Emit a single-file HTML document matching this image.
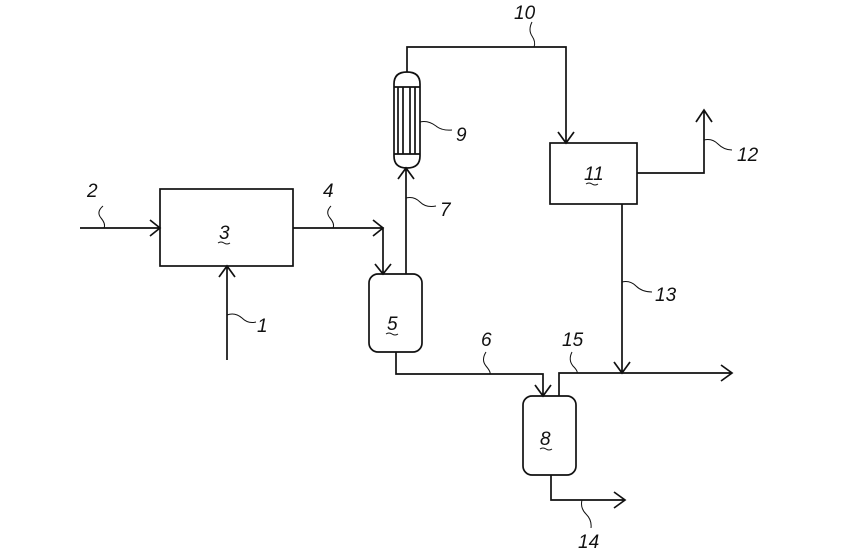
<!DOCTYPE html>
<html><head><style>body{margin:0;background:#fff}svg{display:block}text{font-family:"Liberation Sans",sans-serif;font-style:italic;font-size:19px;fill:#111}</style></head>
<body>
<svg width="857" height="553" viewBox="0 0 857 553" xmlns="http://www.w3.org/2000/svg">
<g fill="none" stroke="#111" stroke-width="1.7">
<rect x="160" y="189" width="133" height="77"/>
<path d="M80 228H160M150 220L160 228L150 236"/>
<path d="M227 360V266M219 277L227 266L235 277"/>
<path d="M293 228H383V274M373 220L383 228L373 236M375 264L383 274L391 264"/>
<rect x="369" y="274" width="53" height="78" rx="9"/>
<path d="M406 274V168M398 179L406 168L414 179"/>
<path d="M394 84Q394 72 407 72Q420 72 420 84V156Q420 168 407 168Q394 168 394 156Z"/>
<path d="M394 87H420M394 154H420M398 87V154M403 87V154M410 87V154M415 87V154"/>
<path d="M407 72V47H566V143M558 132L566 143L574 132"/>
<rect x="550" y="143" width="87" height="61"/>
<path d="M637 173H704V110M696 122L704 110L712 122"/>
<path d="M622 204V373M614 362L622 373L630 362"/>
<path d="M396 352V374H543V396M535 385L543 396L551 385"/>
<path d="M559 396V373H732M721 365L732 373L721 381"/>
<rect x="523" y="396" width="53" height="79" rx="9"/>
<path d="M551 475V500H625M614 492L625 500L614 508"/>
<g stroke-width="1">
<path d="M103 206Q96 212 101 218Q106 224 104 228"/>
<path d="M331 206Q325 212 330 218Q335 224 333 228"/>
<path d="M227 315Q235 312 242 318Q248 324 256 322"/>
<path d="M406 198Q414 196 420 202Q426 208 436 206"/>
<path d="M420 122Q428 120 436 126Q442 131 452 130"/>
<path d="M532 22Q528 30 532 36Q536 42 534 47"/>
<path d="M704 140Q712 138 718 144Q724 150 732 150"/>
<path d="M622 282Q630 280 636 286Q642 292 652 292"/>
<path d="M486 352Q481 360 486 366Q491 372 490 374"/>
<path d="M572 352Q568 360 573 366Q578 371 577 373"/>
<path d="M582 500Q580 508 586 514Q592 520 591 528"/>
<path d="M218 243q3-2 6 0t6 0"/><path d="M386 334q3-2 6 0t6 0"/><path d="M540 449q3-2 6 0t6 0"/><path d="M586 184q3-2 6 0t6 0"/>
</g></g>
<text x="87" y="197">2</text>
<text x="323" y="197">4</text>
<text x="257" y="332">1</text>
<text x="440" y="216">7</text>
<text x="456" y="141">9</text>
<text x="514" y="19">10</text>
<text x="737" y="161">12</text>
<text x="655" y="301">13</text>
<text x="481" y="346">6</text>
<text x="562" y="346">15</text>
<text x="578" y="548">14</text>
<text x="219" y="239">3</text>
<text x="387" y="330">5</text>
<text x="540" y="445">8</text>
<text x="584" y="180">11</text>
</svg>
</body></html>
